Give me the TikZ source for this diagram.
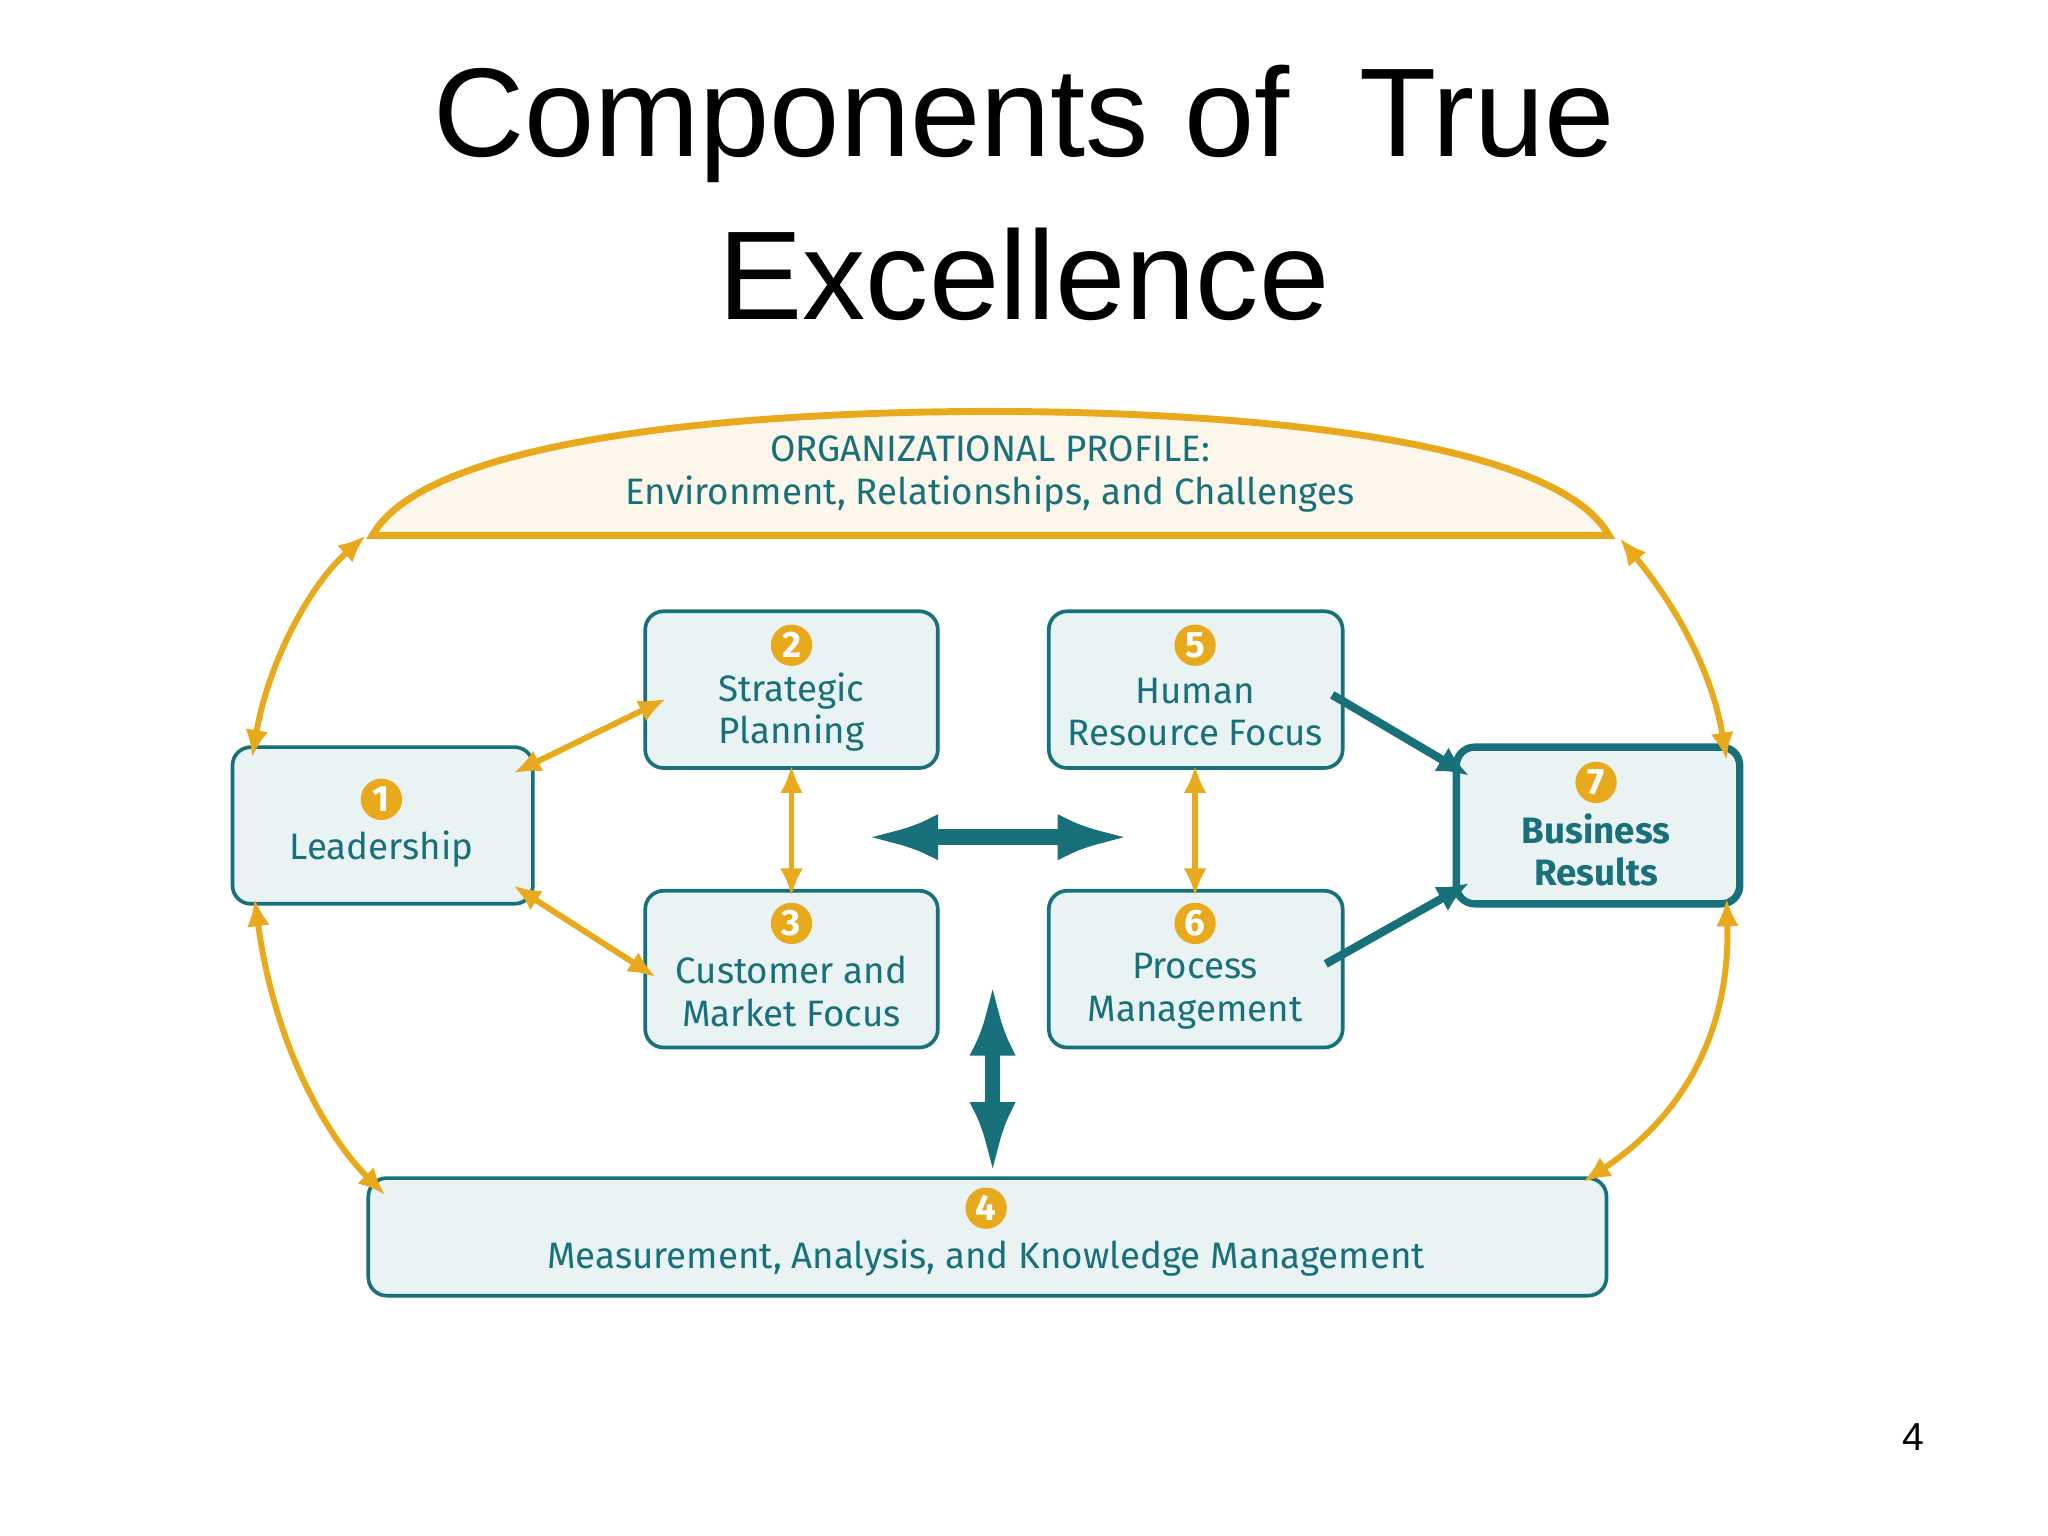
\documentclass[tikz,border=0pt]{standalone}
\usepackage{fontspec}
\setmainfont{Liberation Sans}
\newfontfamily\boxfont{Fira Sans}
\usetikzlibrary{arrows.meta}
\definecolor{teal}{HTML}{17707A}
\definecolor{gold}{HTML}{E8AA1C}
\definecolor{boxfill}{HTML}{EAF3F3}
\definecolor{cream}{HTML}{FDF6EA}
\tikzset{
  comp/.style={draw=teal, line width=0.8pt, fill=boxfill, rounded corners=4pt},
  num/.style={circle, fill=gold, text=white, inner sep=0pt, minimum size=9pt, font=\boxfont\bfseries\fontsize{8pt}{8pt}\selectfont},
  lbl/.style={text=teal, font=\boxfont\fontsize{8pt}{9.2pt}\selectfont, align=center},
  garrow/.style={draw=gold, line width=1.3pt, {Latex[length=6pt,width=5pt]}-{Latex[length=6pt,width=5pt]}},
  tarrow/.style={draw=teal, line width=1.8pt, -{Latex[length=7pt,width=6pt]}},
  bigarrow/.style={draw=teal, line width=3.4pt, {Latex[length=16pt,width=10pt]}-{Latex[length=16pt,width=10pt]}}
}
\begin{document}
\begin{tikzpicture}[x=0.01cm,y=-0.01cm]
\useasboundingbox (0,0) rectangle (1568,1176);
\node (t1) at (784,95) {\fontsize{27.5pt}{30pt}\selectfont Components of\ \ True};
\node (t2) at (784,210) {\fontsize{27.5pt}{30pt}\selectfont Excellence};
% org profile dome
\draw[draw=gold, line width=1.5pt, fill=cream] (285,410) .. controls (330,330) and (600,315) .. (758,315) .. controls (916,315) and (1187,330) .. (1232,410) -- cycle;
\node[lbl] (op) at (758,363) {ORGANIZATIONAL PROFILE:\\Environment, Relationships, and Challenges};
% boxes
\draw[comp] (178,572) rectangle (408,692); \node[num] (n1) at (292,612) {1}; \node[lbl] (l1) at (292,650) {Leadership};
\draw[comp] (494,468) rectangle (718,588); \node[num] (n2) at (606,494) {2}; \node[lbl] (l2) at (606,545) {Strategic\\Planning};
\draw[comp] (494,682) rectangle (718,802); \node[num] (n3) at (606,707) {3}; \node[lbl] (l3) at (606,759) {Customer and\\Market Focus};
\draw[comp] (803,468) rectangle (1028,588); \node[num] (n5) at (915,494) {5}; \node[lbl] (l5) at (915,545) {Human\\Resource Focus};
\draw[comp] (803,682) rectangle (1028,802); \node[num] (n6) at (915,707) {6}; \node[lbl] (l6) at (915,759) {Process\\Management};
\draw[comp, line width=1.6pt] (1115,572) rectangle (1332,692); \node[num] (n7) at (1222,599) {7}; \node[lbl, font=\boxfont\bfseries\fontsize{8pt}{9.2pt}\selectfont] (l7) at (1222,651) {Business\\Results};
\draw[comp] (282,902) rectangle (1230,992); \node[num] (n4) at (755,925) {4}; \node[lbl] (l4) at (755,963) {Measurement, Analysis, and Knowledge Management};
% arrow endpoints
\coordinate (a1) at (393,592); \coordinate (a2) at (510,535);
\coordinate (b1) at (393,678); \coordinate (b2) at (502,748);
\coordinate (c1) at (606,586); \coordinate (c2) at (606,686);
\coordinate (d1) at (915,586); \coordinate (d2) at (915,686);
\coordinate (e1) at (193,580); \coordinate (e2) at (280,410);
\coordinate (f1) at (195,688); \coordinate (f2) at (295,915);
\coordinate (g1) at (1322,582); \coordinate (g2) at (1240,412);
\coordinate (h1) at (1322,688); \coordinate (h2) at (1212,905);
\coordinate (i1) at (1020,532); \coordinate (i2) at (1125,594);
\coordinate (j1) at (1015,738); \coordinate (j2) at (1125,676);
\coordinate (k1) at (662,641); \coordinate (k2) at (866,641);
\coordinate (m1) at (760,752); \coordinate (m2) at (760,900);
\draw[garrow] (a1) -- (a2);
\draw[garrow] (b1) -- (b2);
\draw[garrow] (c1) -- (c2);
\draw[garrow] (d1) -- (d2);
\draw[garrow] (e1) .. controls (205,510) and (235,450) .. (e2);
\draw[garrow] (f1) .. controls (210,800) and (250,870) .. (f2);
\draw[garrow] (g1) .. controls (1310,510) and (1280,460) .. (g2);
\draw[garrow] (h1) .. controls (1325,800) and (1280,860) .. (h2);
\draw[tarrow] (i1) -- (i2);
\draw[tarrow] (j1) -- (j2);
\draw[bigarrow] (k1) -- (k2);
\draw[bigarrow] (m1) -- (m2);
\node (pg) at (1465,1100) {\fontsize{8.5pt}{10pt}\selectfont 4};
\end{tikzpicture}
\end{document}
